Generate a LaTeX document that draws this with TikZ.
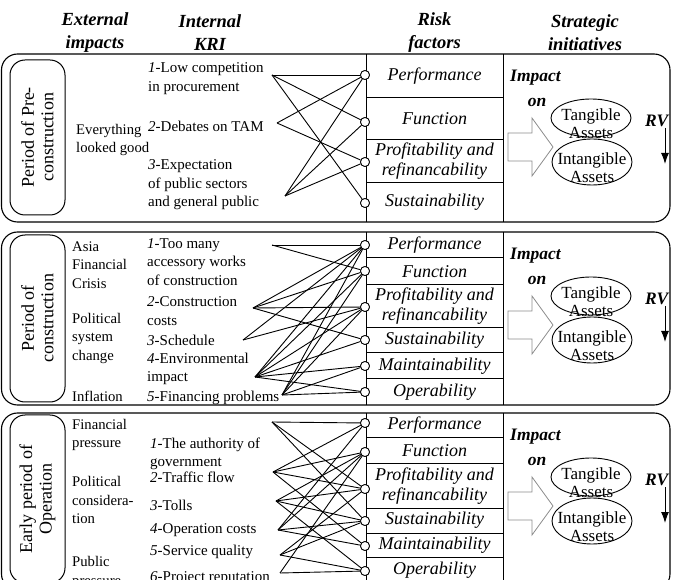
\documentclass[tikz,border=0pt]{standalone}
\usepackage{fontspec}
\setmainfont{Liberation Serif}
\usetikzlibrary{shapes.geometric,arrows.meta}

\begin{document}
\begin{tikzpicture}[x=1pt,y=-1pt,
  hdr/.style={font=\fontsize{18.5}{23}\selectfont\bfseries\itshape, align=center, inner sep=0pt},
  txt/.style={font=\fontsize{15}{18.5}\selectfont, anchor=west, align=left, inner sep=0pt},
  ext/.style={font=\fontsize{14.7}{18.5}\selectfont, anchor=west, align=left, inner sep=0pt},
  risk/.style={font=\fontsize{18}{20}\selectfont\itshape, align=center, inner sep=0pt},
  phase/.style={draw, rounded corners=15pt, line width=1pt, rotate=90, align=center,
    font=\fontsize{18}{19.5}\selectfont, inner sep=0pt},
  panel/.style={draw, rounded corners=16pt, line width=1.1pt},
  grid/.style={line width=1pt},
  conn/.style={line width=0.9pt},
  dot/.style={circle, draw, fill=white, inner sep=0pt, minimum size=9pt, line width=0.8pt},
  imp/.style={font=\fontsize{17.5}{18}\selectfont\bfseries\itshape, inner sep=0pt},
  asset/.style={ellipse, draw, line width=0.9pt, minimum width=80pt, inner sep=0pt},
  assettxt/.style={font=\fontsize{17}{18}\selectfont, align=center, inner sep=0pt},
  blockarrow/.style={draw=black!45, fill=white, line width=0.8pt},
  rvarrow/.style={line width=1pt, -{Latex[length=11pt,width=8pt]}}
]
\useasboundingbox (0,0) rectangle (673,580);

% column headings
\node[hdr] (hExt) at (95,33) {External\\impacts};
\node[hdr] (hKri) at (210,33) {Internal\\KRI};
\node[hdr] (hRisk) at (434.5,33) {Risk\\factors};
\node[hdr] (hStr) at (585,33) {Strategic\\initiatives};

% ---------------- Period of pre-construction ----------------
\draw[panel] (1.5,54) rectangle (670,222);
\draw[grid] (366,54) -- (366,222);
\draw[grid] (503,54) -- (503,222);
\foreach \y in {98,140,183} \draw[grid] (366,\y) -- (503,\y);
\node[phase, minimum width=155pt, minimum height=55pt] (ph1) at (37.5,137.5) {Period of Pre-\\construction};

\node[ext] (e1a) at (76,140) {Everything\\looked good};
\node[txt] (k1a) at (148,78.5) {\textit{1}-Low competition\\in procurement};
\node[txt] (k1b) at (148,126) {\textit{2}-Debates on TAM};
\node[txt] (k1c) at (148,185) {\textit{3}-Expectation\\of public sectors\\and general public};

\node[risk] (r1a) at (434.5,76) {Performance};
\node[risk] (r1b) at (434.5,119) {Function};
\node[risk] (r1c) at (434.5,161.5) {Profitability and\\refinancability};
\node[risk] (r1d) at (434.5,202.5) {Sustainability};

\coordinate (p1k1) at (272,75);
\coordinate (p1k2) at (277,123);
\coordinate (p1k3) at (285,196);

\foreach \y/\n in {75/1,122/2,162/3,203/4}
  \node[dot] (p1c\n) at (365,\y) {};
\foreach \a/\b in {1/1,1/2,1/4, 2/1,2/3, 3/1,3/2,3/3}
  \draw[conn] (p1k\a) -- (p1c\b);
\foreach \y/\n in {75/1,122/2,162/3,203/4}
  \node[dot] (p1d\n) at (365,\y) {};

% ---------------- Period of construction ----------------
\draw[panel] (1.5,232) rectangle (670,405);
\draw[grid] (366,232) -- (366,405);
\draw[grid] (503,232) -- (503,405);
\foreach \y in {258,285,328,353,379} \draw[grid] (366,\y) -- (503,\y);
\node[phase, minimum width=167pt, minimum height=55pt] (ph2) at (37.5,318.5) {Period of\\construction};

\node[ext] (e2a) at (72,265) {Asia\\Financial\\Crisis};
\node[ext] (e2b) at (72,338) {Political\\system\\change};
\node[ext] (e2c) at (72,396) {Inflation};

\node[txt] (k2a) at (147,262) {\textit{1}-Too many\\accessory works\\of construction};
\node[txt] (k2b) at (147,311) {\textit{2}-Construction\\costs};
\node[txt] (k2c) at (147,340.5) {\textit{3}-Schedule};
\node[txt] (k2d) at (147,369) {\textit{4}-Environmental\\impact};
\node[txt] (k2e) at (147,397.5) {\textit{5}-Financing problems};

\node[risk] (r2a) at (434.5,245) {Performance};
\node[risk] (r2b) at (434.5,271.5) {Function};
\node[risk] (r2c) at (434.5,306.5) {Profitability and\\refinancability};
\node[risk] (r2d) at (434.5,340.5) {Sustainability};
\node[risk] (r2e) at (434.5,366) {Maintainability};
\node[risk] (r2f) at (434.5,392) {Operability};

\coordinate (p2k1) at (272,245);
\coordinate (p2k2) at (253,308);
\coordinate (p2k3) at (243,340);
\coordinate (p2k4) at (255,377);
\coordinate (p2k5) at (282,395);

\foreach \y/\n in {245/1,271/2,307/3,340/4,366/5,392/6}
  \node[dot] (p2c\n) at (365,\y) {};
\foreach \a/\b in {1/1,1/2, 2/1,2/2,2/3,2/4, 3/1,3/3,
                   4/1,4/2,4/3,4/4,4/5,4/6, 5/1,5/2,5/3,5/5,5/6}
  \draw[conn] (p2k\a) -- (p2c\b);
\foreach \y/\n in {245/1,271/2,307/3,340/4,366/5,392/6}
  \node[dot] (p2d\n) at (365,\y) {};

% ---------------- Early period of operation ----------------
\draw[panel] (1.5,413) rectangle (670,590);
\draw[grid] (366,413) -- (366,590);
\draw[grid] (503,413) -- (503,590);
\foreach \y in {438,464,508,533,557} \draw[grid] (366,\y) -- (503,\y);
\node[phase, minimum width=168pt, minimum height=55pt] (ph3) at (37.5,499) {Early period of\\Operation};

\node[ext] (e3a) at (72,435) {Financial\\pressure};
\node[ext] (e3b) at (72,500) {Political\\considera-\\tion};
\node[ext] (e3c) at (72,572.5) {Public\\pressure};

\node[txt] (k3a) at (150,454) {\textit{1}-The authority of\\government};
\node[txt] (k3b) at (150,477) {\textit{2}-Traffic flow};
\node[txt] (k3c) at (150,505) {\textit{3}-Tolls};
\node[txt] (k3d) at (150,530) {\textit{4}-Operation costs};
\node[txt] (k3e) at (150,552) {\textit{5}-Service quality};
\node[txt] (k3f) at (150,578) {\textit{6}-Project reputation};

\node[risk] (r3a) at (434.5,425.5) {Performance};
\node[risk] (r3b) at (434.5,451) {Function};
\node[risk] (r3c) at (434.5,486) {Profitability and\\refinancability};
\node[risk] (r3d) at (434.5,520.5) {Sustainability};
\node[risk] (r3e) at (434.5,545) {Maintainability};
\node[risk] (r3f) at (434.5,570.5) {Operability};

\coordinate (p3k1) at (272,422);
\coordinate (p3k2) at (273,472);
\coordinate (p3k3) at (276,501);
\coordinate (p3k4) at (278,530);
\coordinate (p3k5) at (280,555);
\coordinate (p3k6) at (280,573);

\foreach \y/\n in {423/1,452/2,489/3,521/4,546/5,571/6}
  \node[dot] (p3c\n) at (365,\y) {};
\foreach \a/\b in {1/1,1/3,1/4, 2/1,2/2,2/3,2/5, 3/2,3/3,3/4,3/6,
                   4/1,4/2,4/4,4/5, 5/3,5/4,5/6, 6/2,6/6}
  \draw[conn] (p3k\a) -- (p3c\b);
\foreach \y/\n in {423/1,452/2,489/3,521/4,546/5,571/6}
  \node[dot] (p3d\n) at (365,\y) {};

% ---------------- strategic initiatives (same in every period) ----------------
\foreach \t/\n in {54/1,232/2,413/3} {
  \node[imp, anchor=west] (impact\n) at (510,\t+24) {Impact};
  \node[imp] (on\n) at (537,\t+48) {on};
  \draw[blockarrow] (508,\t+79) -- (532,\t+79) -- (532,\t+64) -- (553,\t+93)
        -- (532,\t+122) -- (532,\t+107) -- (508,\t+107) -- cycle;
  \node[asset, minimum height=38pt] (tang\n) at (591,\t+64) {};
  \node[assettxt] (tangt\n) at (591,\t+70) {Tangible\\Assets};
  \node[asset, minimum height=46pt] (intang\n) at (592,\t+108) {};
  \node[assettxt] (intangt\n) at (592,\t+114) {Intangible\\Assets};
  \node[imp, anchor=west] (rv\n) at (645,\t+67) {RV};
  \coordinate (rvtop\n) at (665,\t+74);
  \coordinate (rvbot\n) at (665,\t+110);
  \draw[rvarrow] (rvtop\n) -- (rvbot\n);
}
\end{tikzpicture}
\end{document}
